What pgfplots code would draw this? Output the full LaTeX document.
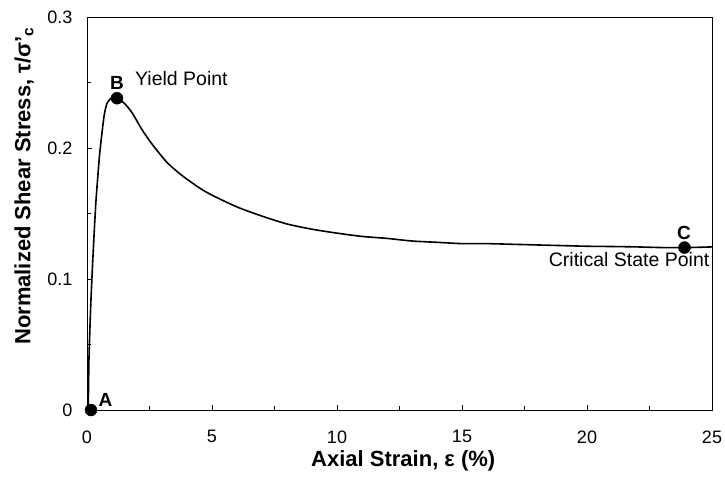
\documentclass[border=0pt]{standalone}
\usepackage{fontspec}
\setmainfont{Liberation Sans}
\usepackage{pgfplots}
\pgfplotsset{compat=1.18}
\begin{document}
\begin{tikzpicture}
\useasboundingbox (-87pt,-73pt) rectangle (638pt,410pt);
\begin{axis}[
  at={(0,0)}, anchor=south west,
  width=625pt, height=393pt, scale only axis,
  xmin=0, xmax=25, ymin=0, ymax=0.3,
  xtick={0,5,10,15,20,25}, ytick={0,0.1,0.2,0.3},
  yticklabels={0,0.1,0.2,0.3},
  minor x tick num=1, minor y tick num=1,
  tick align=inside, tick pos=left,
  major tick length=5pt, minor tick length=4pt,
  axis line style={line width=0.8pt},
  every tick/.style={black, line width=0.8pt},
  /pgf/number format/assume math mode=true,
  tick label style={font=\fontsize{18}{21}\selectfont},
  xticklabel style={yshift=-17pt},
  yticklabel style={xshift=-11pt},
  clip=false,
  xlabel={Axial Strain, ε (\%)},
  ylabel={Normalized Shear Stress, τ/σ'\textsubscript{c}},
  label style={font=\fontsize{22}{26}\selectfont\bfseries},
  xlabel style={at={(axis description cs:0.506,-0.13)}, anchor=center},
  ylabel style={at={(axis description cs:-0.1008,0.57)}, anchor=center},
]
\addplot[black, line width=1.6pt, smooth, tension=0.4] coordinates {
(0.05,0) (0.08,0.04) (0.15,0.08) (0.22,0.11) (0.3,0.14) (0.36,0.16)
(0.44,0.18) (0.52,0.198) (0.68,0.224) (0.8,0.234) (1.0,0.2385) (1.2,0.238)
(1.5,0.234) (1.8,0.227) (2.2,0.214) (2.6,0.203) (3.2,0.189) (3.8,0.179)
(4.5,0.1695) (5.0,0.164) (6.0,0.155) (7.0,0.148) (8.0,0.142) (9.0,0.138)
(10.0,0.135) (11.0,0.1325) (12.0,0.131) (13.0,0.129) (14.0,0.128)
(15.0,0.127) (16.0,0.127) (17.0,0.1265) (18.0,0.126) (19.0,0.1255)
(20.0,0.125) (21.0,0.1248) (22.0,0.1245) (23.0,0.124) (24.0,0.124) (25.0,0.1245)
};
\addplot[only marks, mark=*, mark size=6pt, black] coordinates {
(0.16,0) (1.2,0.238) (23.9,0.124)
};
\node[font=\fontsize{19}{22}\selectfont\bfseries] at (axis cs:0.74,0.0073) {A};
\node[font=\fontsize{19}{22}\selectfont\bfseries] at (axis cs:1.2,0.2496) {B};
\node[font=\fontsize{19}{22}\selectfont\bfseries] at (axis cs:23.88,0.135) {C};
\node[font=\fontsize{19.5}{22}\selectfont, anchor=west, inner sep=0pt] at (axis cs:1.92,0.2534) {Yield Point};
\node[font=\fontsize{19.5}{22}\selectfont, anchor=east, inner sep=0pt] at (axis cs:24.9,0.1145) {Critical State Point};
\end{axis}
\end{tikzpicture}
\end{document}
